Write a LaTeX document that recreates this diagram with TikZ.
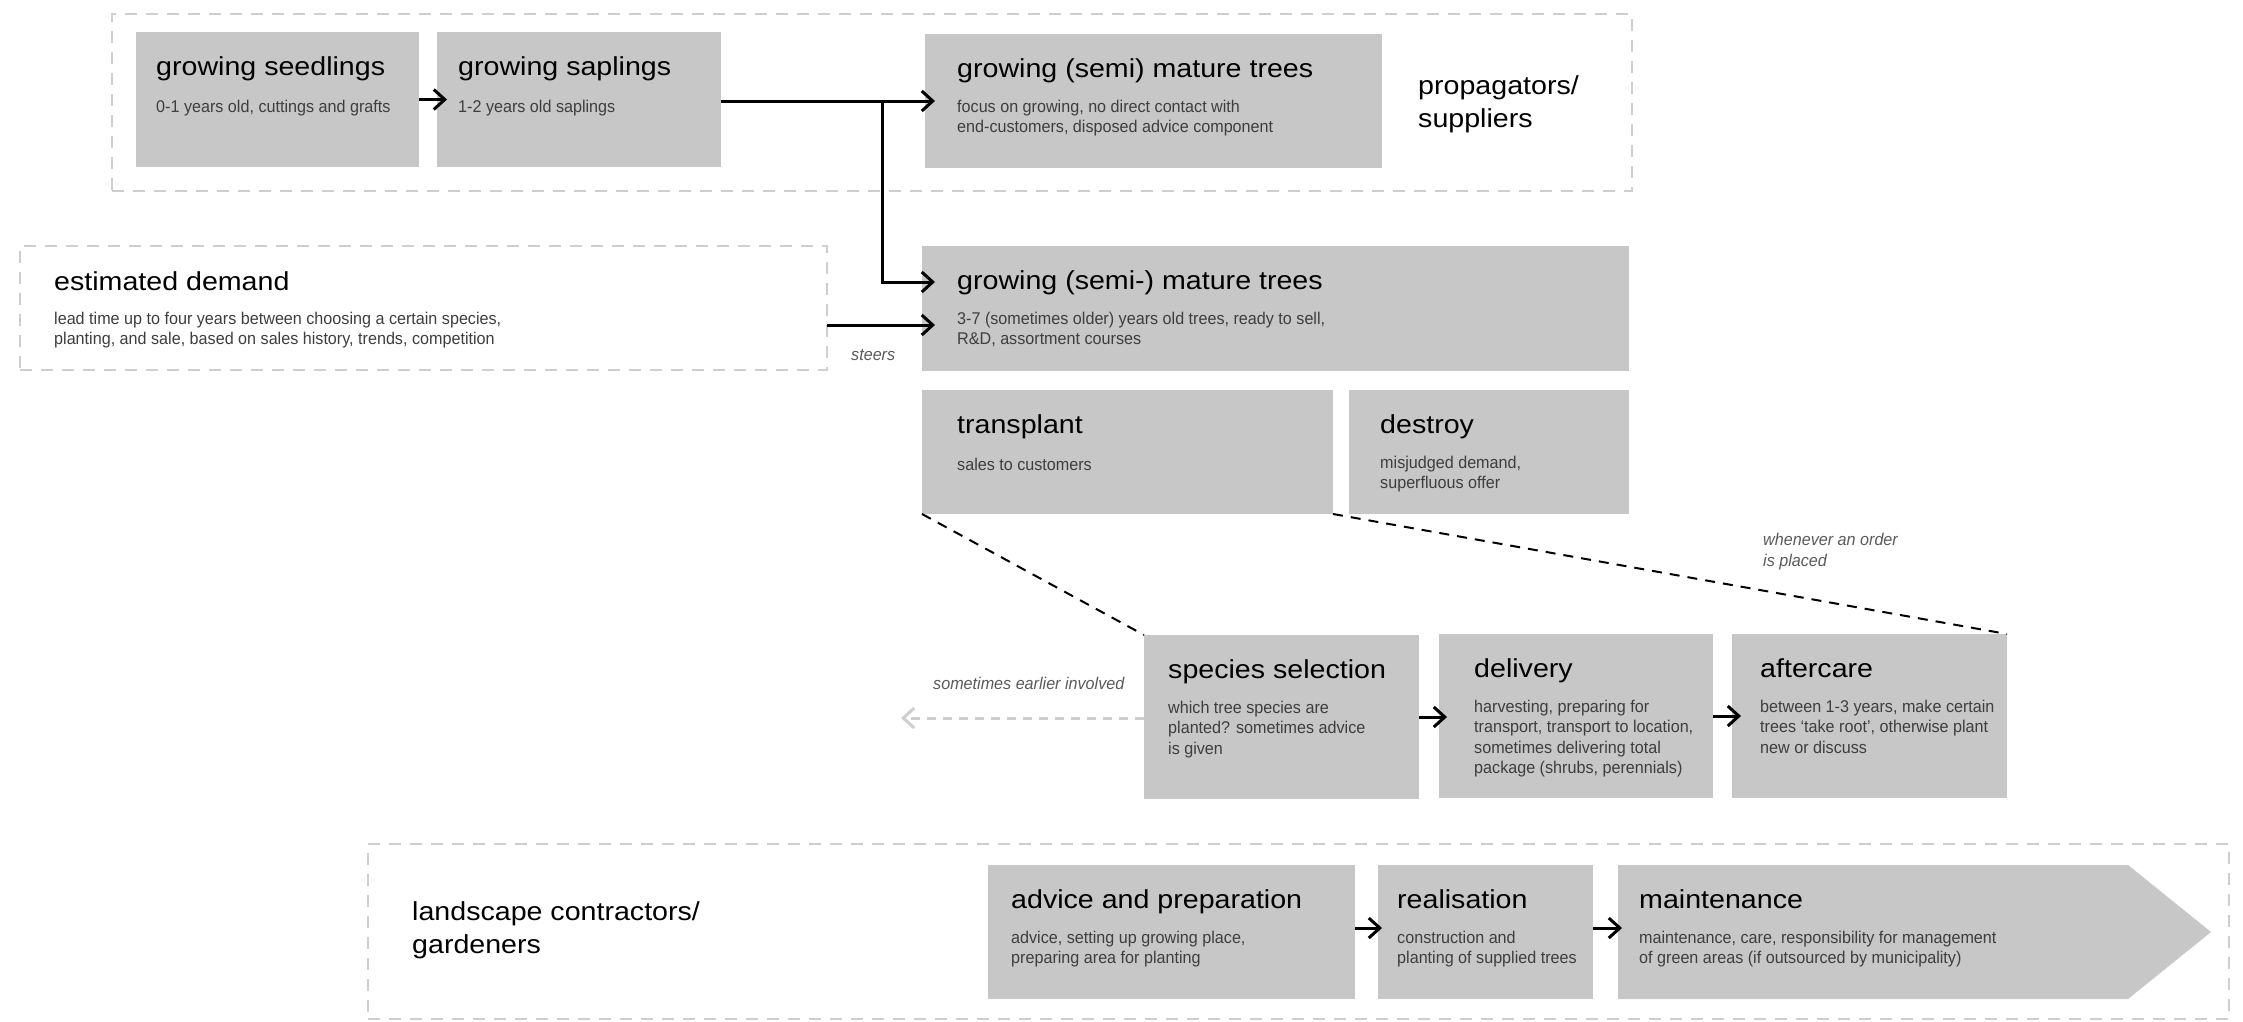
\documentclass[tikz,border=0pt]{standalone}
\usepackage{fontspec}
\setmainfont{Liberation Sans}
\newfontfamily\headfont[FakeStretch=1.1]{Liberation Sans}
\newfontfamily\notefont[FakeStretch=0.95]{Liberation Sans}
\usetikzlibrary{arrows.meta,calc}

\definecolor{boxgrey}{RGB}{198,199,198}
\definecolor{framegrey}{RGB}{206,206,206}
\definecolor{notegrey}{RGB}{62,62,62}
\definecolor{remarkgrey}{RGB}{90,90,90}

% multi-line texts are placed by the baseline of their first line:
% a strut opens the first line and the node is raised by the strut height
\tikzset{
  stage/.style={fill=boxgrey, draw=none, inner sep=0pt, outer sep=0pt},
  group/.style={draw=framegrey, line width=2.5pt, dash pattern=on 12pt off 9pt,
    inner sep=0pt, outer sep=0pt, anchor=north west},
  head/.style={font=\headfont\fontsize{26}{31}\selectfont, text=black,
    inner sep=0pt, anchor=base west},
  grouplabel/.style={font=\headfont\fontsize{26}{33}\selectfont, text=black,
    inner sep=0pt, anchor=north west, align=left, yshift=23.1pt,
    execute at begin node=\strut},
  note/.style={font=\notefont\fontsize{17}{20.5}\selectfont, text=notegrey,
    inner sep=0pt, anchor=north west, align=left, yshift=14.35pt,
    execute at begin node=\strut},
  remark/.style={font=\notefont\itshape\fontsize{17}{21.5}\selectfont, text=remarkgrey,
    inner sep=0pt, anchor=north west, align=left, yshift=15.05pt,
    execute at begin node=\strut},
  flow/.style={line width=3pt, -{Straight Barb[length=11pt,width=20pt]}},
  backflow/.style={draw=framegrey, line width=3pt, dash pattern=on 9pt off 7pt,
    -{Straight Barb[length=11pt,width=20pt]}},
  link/.style={line width=2pt, dash pattern=on 10pt off 8pt},
}

% grey stage box with a heading and a short description
% #1 name, #2-#5 corners (x1,y1,x2,y2), #6 left padding, #7 heading, #8 description
\newcommand{\stagebox}[8]{%
  \node[stage, anchor=north west, minimum width=#4-#2, minimum height=#5-#3] (#1) at (#2,#3) {};
  \node[head] (#1-head) at ($(#1.north west)+(#6,43)$) {#7};
  \node[note] (#1-note) at ($(#1.north west)+(#6,80)$) {#8};
}

\begin{document}
\begin{tikzpicture}[x=1pt,y=-1pt]
\useasboundingbox (0,0) rectangle (2243,1021);

% dashed frames
\node[group, minimum width=1520, minimum height=177] (propframe) at (112,14) {};
\node[group, minimum width=807, minimum height=124] (demand) at (20,246) {};
\node[group, minimum width=1861, minimum height=175] (landframe) at (368,844) {};

\node[grouplabel] (proplabel) at (1418,99) {propagators/\\suppliers};
\node[grouplabel] (landlabel) at (412,925) {landscape contractors/\\gardeners};

\node[head] (demand-head) at ($(demand.north west)+(34,44)$) {estimated demand};
\node[note] (demand-note) at ($(demand.north west)+(34,80)$) {lead time up to four years between choosing a certain species,\\planting, and sale, based on sales history, trends, competition};

% growers
\stagebox{seed}{136}{32}{419}{167}{20}{growing seedlings}{0-1 years old, cuttings and grafts}
\stagebox{sapl}{437}{32}{721}{167}{21}{growing saplings}{1-2 years old saplings}
\stagebox{semi}{925}{34}{1382}{168}{32}{growing (semi) mature trees}{focus on growing, no direct contact with\\end-customers, disposed advice component}
\stagebox{grow}{922}{246}{1629}{371}{35}{growing (semi-) mature trees}{3-7 (sometimes older) years old trees, ready to sell,\\R\&D, assortment courses}
\stagebox{trans}{922}{390}{1333}{514}{35}{transplant}{sales to customers}
\stagebox{destroy}{1349}{390}{1629}{514}{31}{destroy}{misjudged demand,\\superfluous offer}

% order handling
\stagebox{species}{1144}{635}{1419}{799}{24}{species selection}{which tree species are\\planted? sometimes advice\\is given}
\stagebox{deliv}{1439}{634}{1713}{798}{35}{delivery}{harvesting, preparing for\\transport, transport to location,\\sometimes delivering total\\package (shrubs, perennials)}
\stagebox{after}{1732}{634}{2007}{798}{28}{aftercare}{between 1-3 years, make certain\\trees ‘take root’, otherwise plant\\new or discuss}

% landscape contractors
\stagebox{advice}{988}{865}{1355}{999}{23}{advice and preparation}{advice, setting up growing place,\\preparing area for planting}
\stagebox{real}{1378}{865}{1593}{999}{19}{realisation}{construction and\\planting of supplied trees}
\coordinate (maint) at (1618,865);
\fill[boxgrey] (maint) -- ++(510,0) -- ++(83,67) -- ++(-83,67) -- ++(-510,0) -- cycle;
\node[head] (maint-head) at ($(maint)+(21,43)$) {maintenance};
\node[note] (maint-note) at ($(maint)+(21,80)$) {maintenance, care, responsibility for management\\of green areas (if outsourced by municipality)};

% connectors
\draw[flow] (seed.east) -- ([xshift=10pt]sapl.west);
\draw[flow] (sapl.east |- semi.west) -- ([xshift=10pt]semi.west);
\coordinate (split) at (882,101);
\draw[flow] ([yshift=1.5pt]split) |- ($(grow.north west)+(13,36)$);
\draw[flow] ($(demand.north east)+(0,79)$) -- ($(grow.north west)+(13,79)$);
\node[remark] (steers) at (851,360) {steers};

\draw[link] (trans.south west) -- (species.north west);
\draw[link] (trans.south east) -- (after.north east);
\node[remark] (order) at (1763,548) {whenever an order\\is placed};

\draw[flow] (species.east) -- ([xshift=8pt]deliv.west |- species.east);
\draw[flow] (deliv.east) -- ([xshift=9pt]after.west);
\coordinate (earlier) at (901,718);
\draw[backflow] (species.west |- earlier) -- (earlier);
\node[remark] (earlier-label) at (933,689) {sometimes earlier involved};

\draw[flow] ($(advice.north east)+(0,63)$) -- ($(real.north west)+(4,63)$);
\draw[flow] ($(real.north east)+(0,63)$) -- ($(maint)+(4,63)$);
\end{tikzpicture}
\end{document}
